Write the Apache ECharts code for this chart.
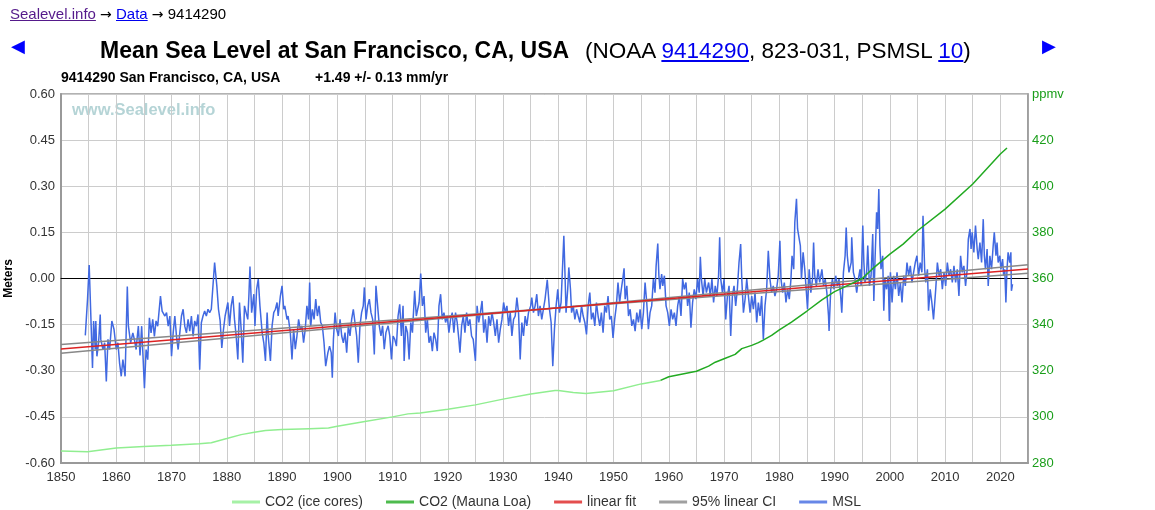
<!DOCTYPE html>
<html>
<head>
<meta charset="utf-8">
<script src="https://cdn.jsdelivr.net/npm/echarts@6/dist/echarts.min.js"></script>
<style>
  html, body { margin: 0; padding: 0; background: #fff; overflow: hidden; }
  #chart { position: absolute; left: 0; top: 0; width: 1155px; height: 510px; }
  .hdr { position: absolute; white-space: nowrap; font-family: "Liberation Sans", Arial, sans-serif; color: #000; }
  .hdr a { text-decoration: underline; }
  #crumb { left: 10px; top: 4px; font-size: 15px; line-height: 20px; }
  #crumb .v { color: #551a8b; }
  #crumb .l { color: #0000ee; }
  #crumb .ar { font-family: "DejaVu Sans", sans-serif; font-size: 14px; }
  #title { left: 100px; top: 36px; font-size: 22.5px; line-height: 28px; }
  #title b { font-weight: bold; font-size: 23px; margin-right: 16px; }
  #title a { color: #0000ee; }
  .arrow { top: 34px; font-size: 18px; line-height: 24px; color: #0000ff; font-family: "DejaVu Sans", sans-serif; }
</style>
</head>
<body>
<div id="chart"></div>
<div id="crumb" class="hdr"><a class="v">Sealevel.info</a> <span class="ar">→</span> <a class="l">Data</a> <span class="ar">→</span> 9414290</div>
<div class="hdr arrow" style="left:11px">◀</div>
<div id="title" class="hdr"><b>Mean Sea Level at San Francisco, CA, USA</b>(NOAA <a>9414290</a>, 823-031, PSMSL <a>10</a>)</div>
<div class="hdr arrow" style="left:1042px">▶</div>
<script>
// ---- data ----
const seriesNames = ['CO2 (ice cores)', 'CO2 (Mauna Loa)', 'linear fit', '95% linear CI', 'MSL'];

// Monthly-ish mean sea level (m), [year, value]
const msl = [
[1854.4,-.185],[1854.8,-.068],[1855.1,.044],[1855.4,-.122],[1855.7,-.291],[1855.9,-.138],[1856.2,-.231],[1856.3,-.138],[1856.5,-.253],[1856.8,-.209],[1857.1,-.117],[1857.2,-.198],[1857.6,-.231],[1857.9,-.209],[1858.2,-.335],[1858.5,-.198],[1858.8,-.231],[1859.2,-.138],[1859.6,-.166],[1860,-.231],[1860.3,-.209],[1860.6,-.275],[1860.9,-.318],[1861.2,-.264],[1861.6,-.318],[1862.0,-.026],[1862.2,-.155],[1862.6,-.209],[1863.0,-.177],[1863.3,-.20],[1863.6,-.231],[1863.8,-.19],[1864.0,-.155],[1864.3,-.25],[1864.6,-.155],[1865.1,-.357],[1865.4,-.231],[1865.7,-.264],[1866.0,-.128],[1866.3,-.177],[1866.6,-.133],[1866.9,-.188],[1867.2,-.138],[1867.5,-.155],[1868.0,-.057],[1868.3,-.106],[1868.8,-.122],[1869.1,-.111],[1869.4,-.155],[1869.7,-.122],[1870.0,-.253],[1870.3,-.177],[1870.6,-.122],[1870.9,-.188],[1871.2,-.231],[1871.5,-.177],[1871.8,-.122],[1872.1,-.100],[1872.4,-.155],[1872.7,-.177],[1873.0,-.133],[1873.3,-.171],[1873.6,-.122],[1873.9,-.188],[1874.2,-.138],[1874.5,-.155],[1874.8,-.117],[1875.1,-.297],[1875.4,-.144],[1875.7,-.122],[1876.0,-.106],[1876.3,-.122],[1876.6,-.100],[1876.9,-.111],[1877.2,-.100],[1877.8,.052],[1878.2,-.024],[1878.5,-.100],[1878.8,-.138],[1879.1,-.226],[1879.4,-.166],[1879.7,-.122],
[1880.2,-.078],[1880.5,-.154],[1880.8,-.089],[1881.1,-.057],[1881.4,-.133],[1881.7,-.187],[1882.0,-.263],[1882.3,-.078],[1882.6,-.165],[1882.9,-.274],[1883.2,-.089],[1883.5,-.111],[1883.8,-.133],[1884.0,-.057],[1884.2,.039],[1884.5,-.111],[1884.9,-.051],[1885.1,-.154],[1885.4,-.035],[1885.7,-.002],[1886.0,-.089],[1886.4,-.176],[1886.7,-.209],[1887.0,-.268],[1887.3,-.111],[1887.5,-.187],[1887.9,-.268],[1888.2,-.154],[1888.5,-.111],[1888.8,-.100],[1889.1,-.078],[1889.3,-.122],[1889.7,-.057],[1890.0,-.024],[1890.3,-.100],[1890.5,-.089],[1890.9,-.133],[1891.1,-.122],[1891.5,-.176],[1891.8,-.263],[1892.1,-.165],[1892.4,-.230],[1892.7,-.187],[1893.0,-.133],[1893.3,-.165],[1893.6,-.154],[1893.9,-.209],[1894.2,-.165],[1894.5,-.089],[1894.8,-.133],[1895.0,-.013],[1895.2,-.154],[1895.5,-.100],[1895.8,-.133],[1896.1,-.067],[1896.4,-.122],[1896.7,-.089],[1897.0,-.143],[1897.3,-.154],[1897.6,-.209],[1897.9,-.285],[1898.3,-.241],[1898.6,-.220],[1898.9,-.241],[1899.1,-.323],[1899.3,-.198],[1899.6,-.111],[1899.9,-.165],[1900.2,-.187],[1900.5,-.133],[1900.8,-.187],[1901.1,-.209],[1901.4,-.176],[1901.7,-.241],[1902.0,-.154],[1902.3,-.187],[1902.6,-.133],[1902.9,-.100],[1903.2,-.143],[1903.5,-.187],[1903.8,-.274],[1904.1,-.154],[1904.4,-.111],[1904.7,-.089],[1904.9,-.029],[1905.2,-.133],[1905.5,-.089],[1905.8,-.067],[1906.1,-.111],[1906.4,-.133],[1906.7,-.247],[1907.0,-.024],[1907.3,-.089],[1907.6,-.154],[1907.9,-.187],[1908.2,-.154],[1908.5,-.230],[1908.8,-.176],
[1909.2,-.154],[1909.5,-.187],[1909.8,-.263],[1910.1,-.187],[1910.4,-.198],[1910.7,-.220],[1911.0,-.122],[1911.3,-.084],[1911.6,-.187],[1911.9,-.089],[1912.1,-.268],[1912.4,-.154],[1912.7,-.176],[1913.0,-.263],[1913.3,-.143],[1913.6,-.176],[1914.0,-.040],[1914.3,-.122],[1914.8,-.078],[1915.1,.016],[1915.4,-.089],[1915.7,-.057],[1916.0,-.176],[1916.3,-.133],[1916.6,-.209],[1916.9,-.187],[1917.2,-.236],[1917.5,-.176],[1917.8,-.198],[1918.1,-.236],[1918.4,-.089],[1918.7,-.051],[1919.0,-.133],[1919.3,-.111],[1919.6,-.143],[1919.9,-.122],[1920.2,-.176],[1920.5,-.133],[1920.8,-.111],[1921.1,-.176],[1921.4,-.111],[1921.7,-.143],[1922.0,-.198],[1922.2,-.241],[1922.5,-.154],[1922.8,-.122],[1923.1,-.176],[1923.4,-.111],[1923.7,-.154],[1924.0,-.133],[1924.3,-.187],[1924.6,-.198],[1925.0,-.268],[1925.3,-.089],[1925.6,-.143],[1925.9,-.111],[1926.2,-.073],[1926.5,-.176],[1926.8,-.133],[1927.1,-.209],[1927.4,-.122],[1927.7,-.154],[1928.0,-.111],[1928.3,-.143],[1928.6,-.187],[1928.9,-.133],[1929.2,-.209],[1929.5,-.165],[1929.8,-.133],[1930.1,-.078],[1930.4,-.111],[1930.7,-.089],[1931.0,-.154],[1931.3,-.111],[1931.6,-.187],[1931.9,-.133],[1932.2,-.122],[1932.5,-.062],[1932.8,-.111],[1933.1,-.263],[1933.4,-.143],[1933.7,-.187],[1934.0,-.122],[1934.3,-.154],[1934.6,-.111],[1935.0,-.089],[1935.2,-.062],[1935.5,-.111],[1935.8,-.089],[1936.1,-.051],[1936.4,-.122],[1936.7,-.089],[1937.0,-.133],[1937.3,-.100],[1937.6,-.067],[1938.0,-.004],
[1938.4,-.100],[1938.7,-.143],[1939.0,-.285],[1939.3,-.165],[1939.6,-.089],[1939.9,-.035],[1940.2,-.111],[1940.5,-.078],[1940.8,.052],[1941.0,.139],[1941.2,.020],[1941.4,-.111],[1941.7,-.035],[1941.9,.036],[1942.2,-.035],[1942.4,-.111],[1942.7,-.089],[1943.0,-.133],[1943.3,-.100],[1943.6,-.122],[1943.9,-.143],[1944.2,-.089],[1944.5,-.122],[1944.8,-.143],[1945.1,-.182],[1945.4,-.089],[1945.7,-.046],[1946.0,-.133],[1946.3,-.111],[1946.6,-.154],[1946.9,-.078],[1947.2,-.122],[1947.5,-.154],[1947.8,-.111],[1948.1,-.176],[1948.4,-.089],[1948.7,-.111],[1949.0,-.057],[1949.3,-.133],[1949.6,-.122],[1949.9,-.193],[1950.2,-.133],[1950.5,-.089],[1950.8,-.013],[1951.1,-.078],[1951.4,-.035],[1951.7,.003],[1951.9,.033],[1952.1,-.067],[1952.4,-.024],[1952.7,-.122],[1953.0,-.100],[1953.3,-.154],[1953.6,-.133],[1953.9,-.171],[1954.2,-.111],[1954.5,-.143],[1954.8,-.100],[1955.1,-.165],[1955.4,-.111],[1955.7,-.013],[1956.0,-.078],[1956.3,-.165],[1956.6,-.111],[1956.9,-.089],[1957.2,-.002],[1957.5,-.046],[1957.7,.041],[1958.0,.114],[1958.2,.009],[1958.4,-.035],[1958.7,.014],[1958.9,-.024],[1959.2,.009],[1959.5,-.089],[1959.8,-.111],[1960.1,-.154],[1960.4,-.100],[1960.7,-.133],[1961.0,-.111],[1961.3,-.154],[1961.6,-.089],[1961.9,-.057],[1962.2,-.122],[1962.5,-.002],[1962.8,-.035],[1963.1,-.013],[1963.4,-.089],[1963.7,-.046],[1964.0,-.160],[1964.3,-.078],[1964.6,-.035],[1964.9,-.067],[1965.2,-.002],[1965.5,-.046],[1965.7,.071],[1965.9,-.002],[1966.2,-.057],[1966.5,-.002],[1966.8,-.046],
[1967.2,-.013],[1967.5,-.057],[1967.8,-.002],[1968.1,-.078],[1968.4,-.024],[1968.7,-.057],[1969.0,.009],[1969.2,.134],[1969.4,-.002],[1969.7,-.046],[1970.0,-.002],[1970.3,-.133],[1970.6,-.057],[1970.9,-.024],[1971.2,-.187],[1971.5,-.057],[1971.8,-.024],[1972.1,-.089],[1972.4,-.035],[1972.7,.052],[1973.0,.112],[1973.2,-.002],[1973.5,-.111],[1973.8,-.067],[1974.1,-.002],[1974.4,-.057],[1974.7,-.111],[1975.0,-.057],[1975.3,-.100],[1975.6,-.046],[1975.9,-.143],[1976.2,-.078],[1976.5,-.122],[1976.8,-.057],[1977.1,-.198],[1977.4,-.089],[1977.7,-.035],[1978.0,.090],[1978.3,-.002],[1978.6,-.046],[1978.9,-.024],[1979.2,-.057],[1979.5,-.035],[1979.8,.009],[1980.1,.123],[1980.3,-.002],[1980.6,-.046],[1980.9,-.013],[1981.2,-.078],[1981.5,-.035],[1981.8,-.067],[1982.1,-.002],[1982.3,.074],[1982.6,.030],[1982.8,.183],[1983.1,.259],[1983.3,.161],[1983.6,.128],[1983.8,.107],[1984.0,-.002],[1984.3,.085],[1984.6,.030],[1984.9,-.046],[1985.1,-.100],[1985.4,.030],[1985.7,-.046],[1986.0,-.002],[1986.2,.117],[1986.4,.009],[1986.7,-.024],[1987.0,.030],[1987.3,-.013],[1987.7,.030],[1988.0,-.024],[1988.3,-.002],[1988.6,-.046],[1988.9,-.122],[1989.0,-.171],[1989.3,-.035],[1989.6,-.002],[1989.9,-.035],[1990.2,.009],[1990.5,-.024],[1990.8,-.002],[1991.1,-.057],[1991.3,-.111],[1991.6,.020],[1991.9,.074],[1992.1,.166],[1992.3,.074],[1992.6,.020],[1993.0,.052],[1993.1,.134],[1993.4,.020],[1993.7,-.002],[1994.0,-.046],[1994.3,-.002],[1994.6,.030],[1994.8,-.024],
[1995.1,.172],[1995.3,.052],[1995.5,-.013],[1995.8,.020],[1996.0,.107],[1996.3,-.024],[1996.6,.009],[1996.9,.145],[1997.1,-.073],[1997.3,.052],[1997.6,.215],[1997.8,.161],[1998.0,.291],[1998.2,.107],[1998.4,.030],[1998.7,.074],[1998.9,-.105],[1999.1,-.002],[1999.4,-.035],[1999.7,.009],[1999.9,-.138],[2000.1,.020],[2000.4,-.078],[2000.7,.009],[2001.0,-.035],[2001.3,.020],[2001.6,-.057],[2001.9,-.013],[2002.2,-.078],[2002.5,.009],[2002.8,-.024],[2003.1,.052],[2003.4,.009],[2003.7,.041],[2004.0,-.013],[2004.3,.020],[2004.6,.052],[2004.9,.074],[2005.2,.009],[2005.5,.052],[2005.8,.020],[2006.0,.204],[2006.3,.030],[2006.5,-.013],[2006.8,.030],[2007.0,-.105],[2007.3,-.035],[2007.6,-.078],[2007.9,-.133],[2008.3,-.035],[2008.6,.052],[2008.9,.009],[2009.2,.030],[2009.5,-.035],[2009.8,.020],[2010.1,-.024],[2010.4,.052],[2010.7,.009],[2011.0,.030],[2011.3,-.013],[2011.6,.041],[2011.9,-.013],[2012.2,.030],[2012.5,-.057],[2012.8,.074],[2013.1,.020],[2013.4,.041],[2013.7,-.024],[2014.0,.030],[2014.2,.128],[2014.5,.161],[2014.7,.096],[2014.9,.150],[2015.2,.085],[2015.5,.172],[2015.8,.096],[2016.0,.063],[2016.3,.117],[2016.6,.052],[2016.9,.193],[2017.1,.074],[2017.3,.030],[2017.6,.096],[2017.8,-.024],[2018.1,.074],[2018.4,.030],[2018.7,.107],[2018.9,.150],[2019.2,.074],[2019.4,.117],[2019.6,.052],[2019.9,.074],[2020.1,.030],[2020.4,.063],[2020.6,.009],[2020.8,.030],[2021.0,-.078],[2021.2,.030],[2021.4,.085],[2021.7,.052],[2021.9,.085],[2022.0,-.040],[2022.2,-.018]
];

// CO2 (ppmv), [year, value]
const co2IceCores = [[1850,285.2],[1854.8,284.9],[1860,286.5],[1865,287.2],[1870,287.7],[1875,288.4],[1877.2,288.8],[1880,290.6],[1882.6,292.3],[1885,293.3],[1887,294.1],[1890,294.5],[1895,294.9],[1898.4,295.2],[1900,295.9],[1905,298.0],[1910,300.0],[1912.8,301.3],[1915,301.7],[1920,303.3],[1925,305.2],[1930,307.7],[1935,309.9],[1939.4,311.4],[1940,311.4],[1942.7,310.6],[1945,310.1],[1950,311.3],[1955,314.3],[1958.5,315.8]];
const co2MaunaLoa = [[1958.5,315.8],[1960,317.4],[1965,319.8],[1967.2,322.0],[1968.4,323.7],[1970,325.2],[1972,327.1],[1973.2,329.6],[1975,331.0],[1976.2,332.2],[1977,333.2],[1978.6,335.3],[1980,337.7],[1982.2,341.1],[1985,345.9],[1987.7,350.7],[1990,354.3],[1992.5,357.1],[1995,360.0],[1997,364.5],[2000,370.6],[2002.4,374.9],[2005,380.7],[2010,390.1],[2015,401.0],[2017.5,407.5],[2020,414.0],[2021.2,416.6]];

// Linear fit and 95% CI lines: endpoints at these years
const fitYears = [1850, 2025];
const fitValues = [-0.229, 0.031];
const ciSteep = [-0.243, 0.045];
const ciShallow = [-0.215, 0.017];

const leftTicks = { min: -0.6, max: 0.6, step: 0.15 };
const rightTicks = { min: 280, max: 440, step: 20 };
const yearTicks = { min: 1850, max: 2025, step: 5 };

// ---- chart ----
const FONT = '"Liberation Sans", Arial, sans-serif';
const pairs = (xs, ys) => xs.map((x, i) => [x, ys[i]]);
const chart = echarts.init(document.getElementById('chart'), null, { renderer: 'canvas' });

const lineSeries = (name, data, color, width, yIdx, z) => ({
  name, type: 'line', data, xAxisIndex: 0, yAxisIndex: yIdx, z,
  showSymbol: false, symbol: 'none', silent: true,
  lineStyle: { color, width }, itemStyle: { color }
});

chart.setOption({
  animation: false,
  textStyle: { fontFamily: FONT },
  title: [
    { text: '9414290 San Francisco, CA, USA', left: 61, top: 71, padding: 0,
      textStyle: { fontFamily: FONT, fontSize: 14, fontWeight: 'bold', color: '#000' } },
    { text: '+1.49 +/- 0.13 mm/yr', left: 315, top: 71, padding: 0,
      textStyle: { fontFamily: FONT, fontSize: 14, fontWeight: 'bold', color: '#000' } }
  ],
  graphic: [
    { type: 'text', left: 72, top: 102, silent: true,
      style: { text: 'www.Sealevel.info', fill: '#b5d4d6', font: 'bold 16.5px ' + FONT } }
  ],
  legend: {
    data: seriesNames, left: 227, top: 490, icon: 'rect', itemWidth: 28, itemHeight: 3,
    itemGap: 23, selectedMode: false, itemStyle: { opacity: 0.8 },
    textStyle: { fontFamily: FONT, fontSize: 14, color: '#333' }
  },
  grid: { left: 61, top: 94, width: 967, height: 369, show: true, borderColor: '#999', borderWidth: 1.5,
    containLabel: false, outerBoundsMode: 'none' },
  xAxis: [
    { type: 'value', min: yearTicks.min, max: yearTicks.max, interval: yearTicks.step,
      axisLine: { onZero: false, lineStyle: { color: '#999', width: 2 } },
      axisTick: { show: false },
      splitLine: { show: true, lineStyle: { color: '#cccccc', width: 1 } },
      axisLabel: { color: '#333', fontSize: 13, fontFamily: FONT, margin: 8,
        formatter: v => (Math.round(v) % 10 === 0 ? String(Math.round(v)) : '') } },
    { type: 'value', min: yearTicks.min, max: yearTicks.max, position: 'bottom',
      axisLine: { show: true, onZero: true, onZeroAxisIndex: 0, lineStyle: { color: '#000', width: 1 } },
      axisTick: { show: false }, axisLabel: { show: false }, splitLine: { show: false } }
  ],
  yAxis: [
    { type: 'value', min: leftTicks.min, max: leftTicks.max, interval: leftTicks.step,
      name: 'Meters', nameLocation: 'middle', nameGap: 44,
      nameTextStyle: { fontFamily: FONT, fontWeight: 'bold', fontSize: 12, color: '#000' },
      axisLine: { show: true, lineStyle: { color: '#999', width: 2 } },
      axisTick: { show: false },
      splitLine: { show: true, lineStyle: { color: '#cccccc', width: 1 } },
      axisLabel: { color: '#333', fontSize: 13, fontFamily: FONT, margin: 6,
        formatter: v => (Math.abs(v) < 1e-9 ? 0 : v).toFixed(2) } },
    { type: 'value', min: rightTicks.min, max: rightTicks.max, interval: rightTicks.step, position: 'right',
      axisLine: { show: true, lineStyle: { color: '#999', width: 1.5 } },
      axisTick: { show: false }, splitLine: { show: false },
      axisLabel: { color: '#1a9e1a', fontSize: 13, fontFamily: FONT, margin: 4,
        formatter: v => (Math.round(v) === rightTicks.max ? 'ppmv' : String(Math.round(v))) } }
  ],
  series: [
    lineSeries('MSL', msl, '#4169e1', 1.5, 0, 2),
    lineSeries('95% linear CI', pairs(fitYears, ciSteep), '#888888', 1.5, 0, 3),
    lineSeries('95% linear CI', pairs(fitYears, ciShallow), '#888888', 1.5, 0, 3),
    lineSeries('linear fit', pairs(fitYears, fitValues), '#dd2222', 1.5, 0, 4),
    lineSeries('CO2 (ice cores)', co2IceCores, '#90ee90', 1.5, 1, 5),
    lineSeries('CO2 (Mauna Loa)', co2MaunaLoa, '#22aa22', 1.5, 1, 5)
  ]
});
</script>
</body>
</html>
